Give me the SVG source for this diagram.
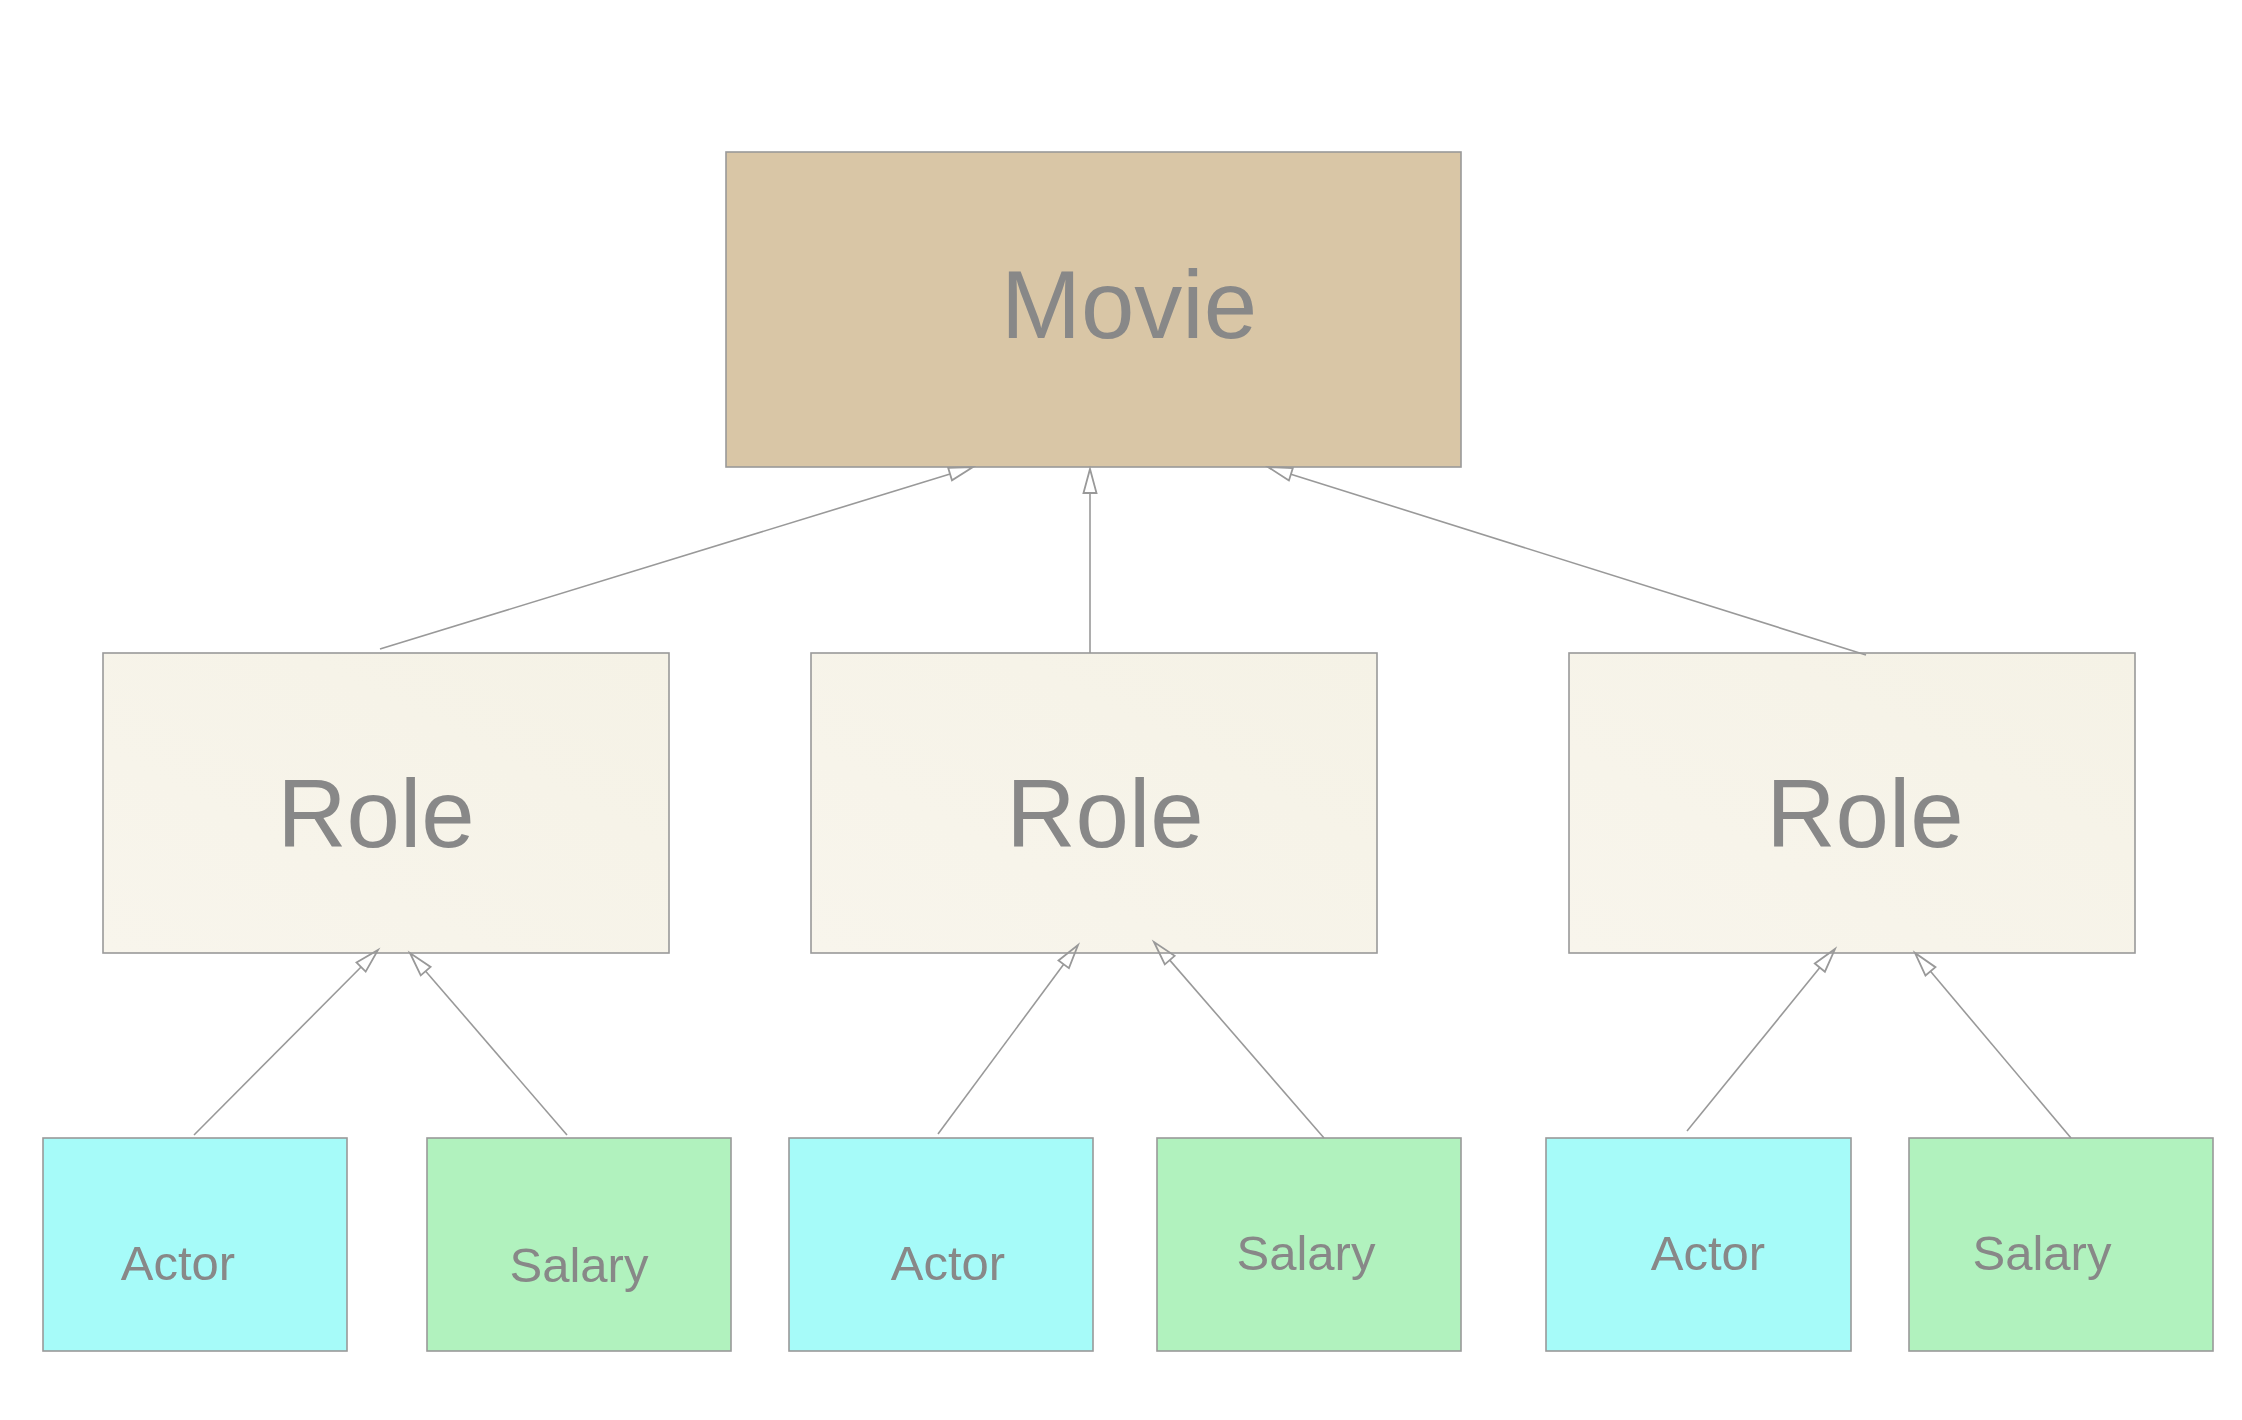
<svg xmlns="http://www.w3.org/2000/svg" width="2242" height="1420" viewBox="0 0 2242 1420">
  <style>
    .box { stroke: #999999; stroke-width: 1.6; }
    .movie { fill: #d9c6a6; }
    .role { fill: url(#roleGrad); }
    .actor { fill: #a6fbf9; }
    .salary { fill: #b1f2be; }
    .big { font-family: "Liberation Sans", Arial, sans-serif; font-size: 96px; fill: #888888; text-anchor: middle; }
    .small { font-family: "Liberation Sans", Arial, sans-serif; font-size: 49px; fill: #888888; text-anchor: middle; }
    .conn { stroke: #999999; stroke-width: 1.6; fill: none; marker-end: url(#hollow); }
  </style>
  <defs>
    <linearGradient id="roleGrad" x1="0" y1="1" x2="1" y2="0">
      <stop offset="0" stop-color="#f8f5ec"/>
      <stop offset="1" stop-color="#f5f2e6"/>
    </linearGradient>
    <marker id="hollow" markerUnits="userSpaceOnUse" markerWidth="30" markerHeight="20" refX="0" refY="0" orient="auto" overflow="visible">
      <path d="M0,-6.5 L24,0 L0,6.5 Z" fill="none" stroke="#999999" stroke-width="1.8" stroke-linejoin="miter"/>
    </marker>
  </defs>
  <rect width="2242" height="1420" fill="#ffffff"/>

  <g id="movie">
    <rect class="box movie" x="726" y="152" width="735" height="315"/>
    <text class="big" x="1129" y="338">Movie</text>
  </g>

  <g id="role1">
    <rect class="box role" x="103" y="653" width="566" height="300"/>
    <text class="big" x="376" y="847">Role</text>
  </g>
  <g id="role2">
    <rect class="box role" x="811" y="653" width="566" height="300"/>
    <text class="big" x="1105" y="847">Role</text>
  </g>
  <g id="role3">
    <rect class="box role" x="1569" y="653" width="566" height="300"/>
    <text class="big" x="1865" y="847">Role</text>
  </g>

  <g id="actor1">
    <rect class="box actor" x="43" y="1138" width="304" height="213"/>
    <text class="small" x="178" y="1280">Actor</text>
  </g>
  <g id="salary1">
    <rect class="box salary" x="427" y="1138" width="304" height="213"/>
    <text class="small" x="579" y="1282">Salary</text>
  </g>
  <g id="actor2">
    <rect class="box actor" x="789" y="1138" width="304" height="213"/>
    <text class="small" x="948" y="1280">Actor</text>
  </g>
  <g id="salary2">
    <rect class="box salary" x="1157" y="1138" width="304" height="213"/>
    <text class="small" x="1306" y="1270">Salary</text>
  </g>
  <g id="actor3">
    <rect class="box actor" x="1546" y="1138" width="305" height="213"/>
    <text class="small" x="1708" y="1270">Actor</text>
  </g>
  <g id="salary3">
    <rect class="box salary" x="1909" y="1138" width="304" height="213"/>
    <text class="small" x="2042" y="1270">Salary</text>
  </g>

  <g id="connectors">
    <line class="conn" x1="380" y1="649" x2="950.06" y2="474.04"/>
    <line class="conn" x1="1090" y1="653" x2="1090" y2="493"/>
    <line class="conn" x1="1866" y1="655" x2="1290.9" y2="474.2"/>
    <line class="conn" x1="194" y1="1135" x2="361.07" y2="967.02"/>
    <line class="conn" x1="567" y1="1135" x2="425.67" y2="971.17"/>
    <line class="conn" x1="938" y1="1134" x2="1063.71" y2="964.29"/>
    <line class="conn" x1="1324" y1="1138" x2="1169.72" y2="960.13"/>
    <line class="conn" x1="1687" y1="1131" x2="1819.86" y2="967.62"/>
    <line class="conn" x1="2071" y1="1138" x2="1930.47" y2="971.35"/>
  </g>
</svg>
